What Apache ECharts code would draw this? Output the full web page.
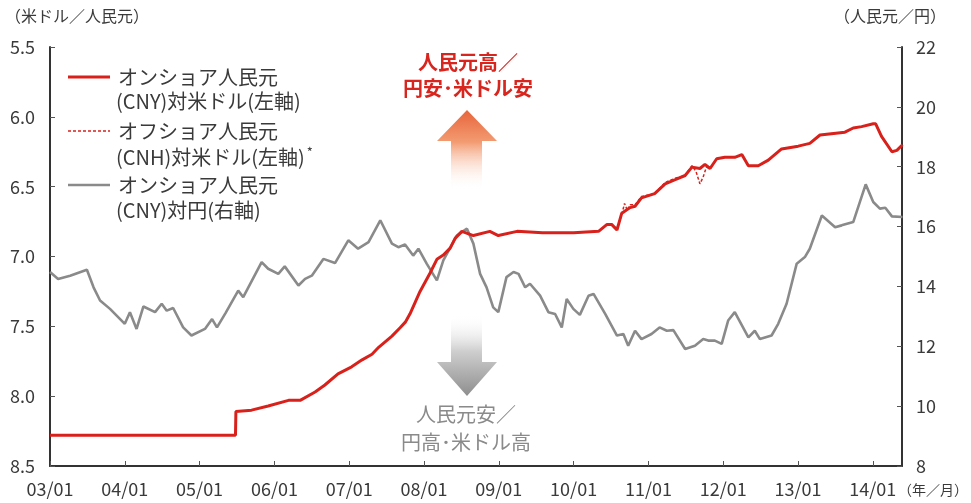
<!DOCTYPE html>
<html>
<head>
<meta charset="utf-8">
<script src="https://cdn.jsdelivr.net/npm/echarts@6/dist/echarts.min.js"></script>
<style>
  html, body { margin: 0; padding: 0; background: #fff; }
  #chart { width: 971px; height: 503px; }
</style>
</head>
<body>
<div id="chart"></div>
<script>
// Onshore CNY per USD (left axis, inverted)
const cnyDates = [
  '2003-01-01','2005-06-24','2005-06-26','2005-09-11','2005-12-01','2006-03-09','2006-05-05',
  '2006-07-17','2006-09-04','2006-11-07','2007-01-13','2007-03-03','2007-04-21','2007-05-23',
  '2007-07-27','2007-09-06','2007-10-01','2007-10-24','2007-12-12','2008-01-30','2008-03-03',
  '2008-04-04','2008-05-07','2008-05-31','2008-07-03','2008-08-29','2008-11-18','2008-12-29',
  '2009-03-29','2009-08-01','2010-01-01','2010-05-01','2010-06-12','2010-07-04','2010-07-30',
  '2010-08-23','2010-10-03','2010-10-27','2010-11-28','2011-02-01','2011-03-22','2011-05-10',
  '2011-06-28','2011-07-31','2011-09-09','2011-10-03','2011-10-28','2011-11-30','2012-01-09',
  '2012-02-27','2012-03-31','2012-05-02','2012-06-20','2012-08-08','2012-10-12','2013-01-02',
  '2013-02-28','2013-04-17','2013-08-17','2013-09-27','2013-11-07','2014-01-03','2014-01-15',
  '2014-02-13','2014-04-03','2014-04-27','2014-05-24'
];
const cnyValues = [
  8.28, 8.28, 8.11, 8.10, 8.07, 8.03, 8.03,
  7.97, 7.92, 7.84, 7.79, 7.74, 7.70, 7.65,
  7.57, 7.51, 7.47, 7.41, 7.25, 7.12, 7.02,
  6.99, 6.94, 6.87, 6.82, 6.85, 6.82, 6.85,
  6.82, 6.83, 6.83, 6.82, 6.77, 6.77, 6.81,
  6.69, 6.65, 6.64, 6.58, 6.55, 6.48, 6.45,
  6.42, 6.36, 6.37, 6.34, 6.37, 6.30, 6.29,
  6.29, 6.27, 6.35, 6.35, 6.31, 6.23, 6.21,
  6.19, 6.13, 6.11, 6.08, 6.07, 6.05, 6.05,
  6.14, 6.25, 6.24, 6.20
];

// Offshore CNH per USD (left axis)
const cnhDates = [
  '2010-07-10','2010-07-30','2010-08-23','2010-09-06','2010-09-20','2010-10-03','2010-10-27',
  '2010-11-28','2011-02-01','2011-03-22','2011-05-10','2011-06-28','2011-07-31','2011-08-20',
  '2011-09-09','2011-09-25','2011-10-10','2011-10-28','2011-11-30','2012-01-09','2012-02-27',
  '2012-03-31','2012-05-02','2012-06-20','2012-08-08','2012-10-12','2013-01-02','2013-02-28',
  '2013-04-17','2013-08-17','2013-09-27','2013-11-07','2014-01-03','2014-01-15','2014-02-13',
  '2014-04-03','2014-04-27','2014-05-24'
];
const cnhValues = [
  6.78, 6.80, 6.70, 6.62, 6.67, 6.63, 6.63,
  6.57, 6.55, 6.47, 6.44, 6.42, 6.35, 6.39,
  6.48, 6.43, 6.36, 6.37, 6.30, 6.29, 6.29,
  6.27, 6.35, 6.35, 6.31, 6.23, 6.21, 6.19,
  6.13, 6.11, 6.08, 6.07, 6.05, 6.05, 6.14,
  6.25, 6.24, 6.20
];

// Onshore CNY vs JPY (right axis)
const jpyDates = [
  '2003-01-01','2003-02-10','2003-04-08','2003-06-29','2003-07-31','2003-09-02','2003-10-20',
  '2004-01-01','2004-01-26','2004-02-28','2004-03-31','2004-05-27','2004-06-29','2004-07-23',
  '2004-08-24','2004-10-12','2004-11-22','2005-01-27','2005-03-01','2005-03-25','2005-05-05',
  '2005-07-07','2005-08-01','2005-10-30','2005-12-01','2006-01-20','2006-02-21','2006-04-27',
  '2006-05-29','2006-07-01','2006-08-27','2006-10-23','2006-12-27','2007-02-14','2007-04-04',
  '2007-05-31','2007-07-27','2007-08-28','2007-09-30','2007-11-09','2007-12-04','2008-01-14',
  '2008-03-03','2008-04-04','2008-06-09','2008-07-28','2008-08-29','2008-10-01','2008-11-02',
  '2008-12-04','2008-12-29','2009-02-08','2009-03-12','2009-04-06','2009-05-08','2009-06-01',
  '2009-07-20','2009-08-30','2009-10-02','2009-11-04','2009-11-28','2009-12-30','2010-02-01',
  '2010-03-13','2010-04-07','2010-06-03','2010-07-30','2010-08-31','2010-09-24','2010-10-27',
  '2010-11-28','2011-01-16','2011-02-25','2011-03-30','2011-05-01','2011-06-28','2011-08-15',
  '2011-09-25','2011-10-19','2011-11-21','2011-12-24','2012-01-25','2012-02-27','2012-05-02',
  '2012-06-03','2012-06-28','2012-08-24','2012-09-26','2012-11-06','2012-12-25','2013-02-04',
  '2013-02-28','2013-04-26','2013-06-30','2013-08-01','2013-09-27','2013-11-27','2014-01-03',
  '2014-02-05','2014-03-01','2014-04-03','2014-05-24'
];
const jpyValues = [
  14.48, 14.25, 14.36, 14.56, 13.97, 13.53, 13.25,
  12.75, 13.14, 12.58, 13.33, 13.14, 13.42, 13.19,
  13.28, 12.63, 12.36, 12.58, 12.91, 12.63, 13.10,
  13.86, 13.64, 14.81, 14.59, 14.42, 14.67, 14.03,
  14.25, 14.36, 14.92, 14.78, 15.54, 15.26, 15.48,
  16.21, 15.43, 15.31, 15.40, 15.03, 15.26, 14.76,
  14.20, 14.87, 15.70, 15.93, 15.43, 14.42, 13.97,
  13.30, 13.14, 14.31, 14.48, 14.42, 13.97, 14.09,
  13.69, 13.14, 13.08, 12.63, 13.58, 13.25, 13.05,
  13.69, 13.75, 13.08, 12.36, 12.41, 12.02, 12.52,
  12.24, 12.41, 12.63, 12.52, 12.54, 11.91, 12.02,
  12.24, 12.19, 12.19, 12.08, 12.86, 13.14, 12.30,
  12.52, 12.24, 12.36, 12.75, 13.42, 14.76, 14.98,
  15.26, 16.37, 15.98, 16.04, 16.15, 17.41, 16.82,
  16.60, 16.63, 16.34, 16.32
];

const leftTicks = { min: 5.5, max: 8.5, step: 0.5 };
const rightTicks = { min: 8, max: 22, step: 2 };
const yearRange = { min: 2003, max: 2014.39 };

function toYear(s) {
  const [y, m, d] = s.split('-').map(Number);
  return y + (m - 1) / 12 + (d - 1) / 365;
}
function pairs(dates, values) {
  return dates.map((d, i) => [toYear(d), values[i]]);
}

const FONT = '"Noto Sans CJK JP", "Noto Sans", sans-serif';
const TEXT = '#3a3a3a';
const RED = '#d9211c';
const GRAY = '#8a8a8a';

const chart = echarts.init(document.getElementById('chart'), null, { renderer: 'canvas' });

const axisCommon = {
  axisLine: { show: true, lineStyle: { color: '#333', width: 2 } },
  axisTick: { show: true, inside: true, length: 5, lineStyle: { color: '#555', width: 1 } },
  splitLine: { show: false },
  axisLabel: { color: TEXT, fontSize: 18, fontFamily: FONT }
};

chart.setOption({
  animation: false,
  backgroundColor: '#fff',
  grid: { left: 50, right: 69, top: 47, bottom: 37, containLabel: false },
  xAxis: {
    type: 'value',
    min: yearRange.min,
    max: yearRange.max,
    interval: 1,
    ...axisCommon,
    axisLabel: {
      ...axisCommon.axisLabel,
      margin: 14,
      showMaxLabel: false,
      formatter: v => Number.isInteger(v) ? String(v).slice(2) + '/01' : ''
    }
  },
  yAxis: [
    {
      type: 'value',
      position: 'left',
      inverse: true,
      min: leftTicks.min,
      max: leftTicks.max,
      interval: leftTicks.step,
      ...axisCommon,
      axisLabel: { ...axisCommon.axisLabel, margin: 15, formatter: v => v.toFixed(1) }
    },
    {
      type: 'value',
      position: 'right',
      min: rightTicks.min,
      max: rightTicks.max,
      interval: rightTicks.step,
      ...axisCommon,
      axisLabel: { ...axisCommon.axisLabel, margin: 14 }
    }
  ],
  series: [
    {
      name: 'オンショア人民元(CNY)対円(右軸)',
      type: 'line',
      yAxisIndex: 1,
      data: pairs(jpyDates, jpyValues),
      showSymbol: false,
      lineStyle: { color: GRAY, width: 2.6 },
      z: 2
    },
    {
      name: 'オフショア人民元(CNH)対米ドル(左軸)',
      type: 'line',
      yAxisIndex: 0,
      data: pairs(cnhDates, cnhValues),
      showSymbol: false,
      lineStyle: { color: RED, width: 1.5, type: [3, 2] },
      z: 3
    },
    {
      name: 'オンショア人民元(CNY)対米ドル(左軸)',
      type: 'line',
      yAxisIndex: 0,
      data: pairs(cnyDates, cnyValues),
      showSymbol: false,
      lineStyle: { color: RED, width: 3 },
      z: 4
    }
  ],
  graphic: [
    // unit titles
    { type: 'text', left: 5, top: 8, z: 10,
      style: { text: '（米ドル／人民元）', font: '16px ' + FONT, fill: TEXT } },
    { type: 'text', left: 834, top: 8, z: 10,
      style: { text: '（人民元／円）', font: '16px ' + FONT, fill: TEXT } },
    { type: 'text', left: 898, top: 483, z: 10,
      style: { text: '（年／月）', font: '14px ' + FONT, fill: TEXT } },

    // up arrow (appreciation)
    { type: 'polygon', z: 0,
      shape: { points: [[467,110],[497,141],[482,141],[482,190],[451,190],[451,141],[437,141]] },
      style: { fill: new echarts.graphic.LinearGradient(0, 0, 0, 1, [
        { offset: 0, color: '#e8653b' },
        { offset: 0.4, color: '#f39b72' },
        { offset: 1, color: 'rgba(255,255,255,0)' }
      ]) } },
    // down arrow (depreciation)
    { type: 'polygon', z: 0,
      shape: { points: [[451,314],[482,314],[482,362],[497,362],[467,396],[437,362],[451,362]] },
      style: { fill: new echarts.graphic.LinearGradient(0, 0, 0, 1, [
        { offset: 0, color: 'rgba(255,255,255,0)' },
        { offset: 0.45, color: '#cfcfcf' },
        { offset: 1, color: '#8e8e8e' }
      ]) } },

    // annotations
    { type: 'text', z: 10, x: 468, y: 62,
      style: { text: '人民元高／', font: 'bold 20px ' + FONT, fill: '#d8261f', align: 'center', verticalAlign: 'middle' } },
    { type: 'text', z: 10, x: 468, y: 88,
      style: { text: '円安･米ドル安', font: 'bold 20px ' + FONT, fill: '#d8261f', align: 'center', verticalAlign: 'middle' } },
    { type: 'text', z: 10, x: 466, y: 414,
      style: { text: '人民元安／', font: '20px ' + FONT, fill: '#8a8a8a', align: 'center', verticalAlign: 'middle' } },
    { type: 'text', z: 10, x: 466, y: 442,
      style: { text: '円高･米ドル高', font: '20px ' + FONT, fill: '#8a8a8a', align: 'center', verticalAlign: 'middle' } },

    // legend
    { type: 'line', z: 10, shape: { x1: 68, y1: 77, x2: 110, y2: 77 }, style: { stroke: RED, lineWidth: 3 } },
    { type: 'text', z: 10, x: 118, y: 77,
      style: { text: 'オンショア人民元', font: '20px ' + FONT, fill: TEXT, verticalAlign: 'middle' } },
    { type: 'text', z: 10, x: 116, y: 101,
      style: { text: '(CNY)対米ドル(左軸)', font: '20px ' + FONT, fill: TEXT, verticalAlign: 'middle' } },

    { type: 'line', z: 10, shape: { x1: 68, y1: 131, x2: 110, y2: 131 }, style: { stroke: RED, lineWidth: 1.5, lineDash: [3, 2] } },
    { type: 'text', z: 10, x: 118, y: 131,
      style: { text: 'オフショア人民元', font: '20px ' + FONT, fill: TEXT, verticalAlign: 'middle' } },
    { type: 'text', z: 10, x: 116, y: 157,
      style: { text: '(CNH)対米ドル(左軸){s|*}', font: '20px ' + FONT, fill: TEXT, verticalAlign: 'middle',
        rich: { s: { fontSize: 13, fontFamily: FONT, fill: TEXT, verticalAlign: 'top', padding: [0, 0, 10, 2] } } } },

    { type: 'line', z: 10, shape: { x1: 68, y1: 185, x2: 110, y2: 185 }, style: { stroke: GRAY, lineWidth: 2.6 } },
    { type: 'text', z: 10, x: 118, y: 185,
      style: { text: 'オンショア人民元', font: '20px ' + FONT, fill: TEXT, verticalAlign: 'middle' } },
    { type: 'text', z: 10, x: 116, y: 210,
      style: { text: '(CNY)対円(右軸)', font: '20px ' + FONT, fill: TEXT, verticalAlign: 'middle' } }
  ]
});
</script>
</body>
</html>
